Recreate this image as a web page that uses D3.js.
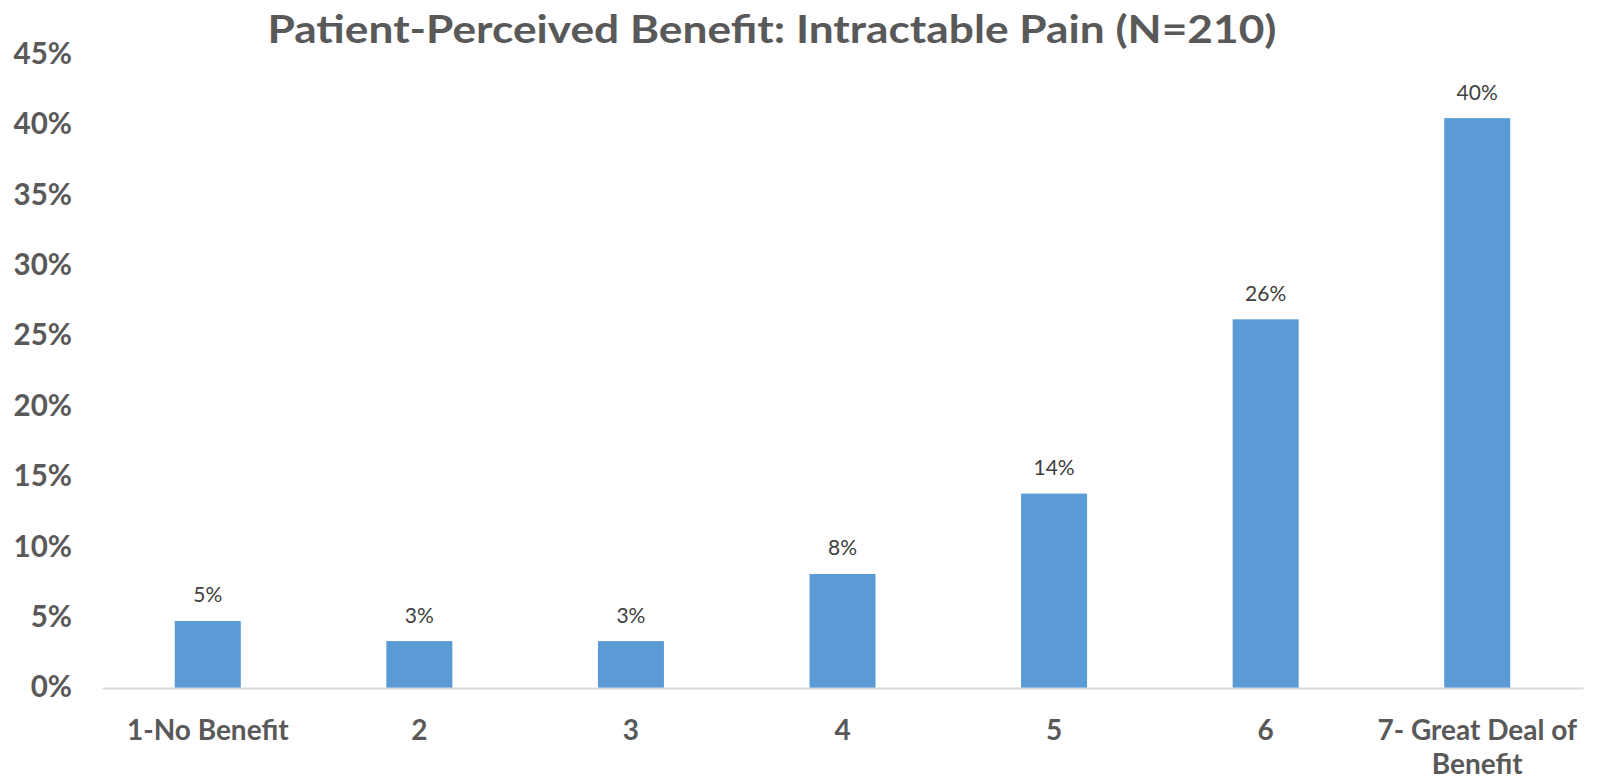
<!DOCTYPE html>
<html>
<head>
<meta charset="utf-8">
<script src="https://cdn.jsdelivr.net/npm/d3@7"></script>
<style>
  html, body { margin: 0; padding: 0; background: #fff; }
  svg { display: block; }
</style>
</head>
<body>
<svg id="chart" width="1601" height="781"></svg>
<script>
const titleText = "Patient-Perceived Benefit: Intractable Pain (N=210)";
const categories = ["1-No Benefit", "2", "3", "4", "5", "6", "7- Great Deal of Benefit"];
const values = [0.0476, 0.0333, 0.0333, 0.0810, 0.1381, 0.2619, 0.4048];
const dataLabels = ["5%", "3%", "3%", "8%", "14%", "26%", "40%"];
const yTicks = [0, 0.05, 0.10, 0.15, 0.20, 0.25, 0.30, 0.35, 0.40, 0.45];

const svg = d3.select("#chart");
const margin = { left: 102, right: 18, top: 54.5, bottom: 93 };
const W = 1601, H = 781;
const plotW = W - margin.left - margin.right;
const plotH = H - margin.top - margin.bottom;

const font = "Lato, 'Open Sans', sans-serif";

const x = d3.scaleBand()
  .domain(categories)
  .range([0, plotW])
  .paddingInner(0.688)
  .paddingOuter(0.344);

const y = d3.scaleLinear()
  .domain([0, 0.45])
  .range([plotH, 0]);

const g = svg.append("g").attr("transform", `translate(${margin.left},${margin.top})`);

// Title
svg.append("text")
  .attr("x", 772)
  .attr("y", 43)
  .attr("text-anchor", "middle")
  .attr("font-family", font)
  .attr("font-weight", 700)
  .attr("font-size", 39)
  .attr("fill", "#595959")
  .attr("textLength", 1009)
  .attr("lengthAdjust", "spacingAndGlyphs")
  .text(titleText);

// Y axis
const yAxis = g.append("g")
  .call(d3.axisLeft(y).tickValues(yTicks).tickFormat(d3.format(".0%")).tickSize(0).tickPadding(30));
yAxis.select(".domain").remove();
yAxis.selectAll("text")
  .attr("font-family", font)
  .attr("font-weight", 700)
  .attr("font-size", 29.5)
  .attr("fill", "#595959")
  .attr("dy", "0.3em");

// Bars
g.selectAll("rect.bar")
  .data(values)
  .join("rect")
  .attr("class", "bar")
  .attr("x", (d, i) => x(categories[i]))
  .attr("width", x.bandwidth())
  .attr("y", d => y(d))
  .attr("height", d => plotH - y(d))
  .attr("fill", "#5B9BD5");

// Data labels
g.selectAll("text.dl")
  .data(values)
  .join("text")
  .attr("class", "dl")
  .attr("x", (d, i) => x(categories[i]) + x.bandwidth() / 2)
  .attr("y", d => y(d) - 18.5)
  .attr("text-anchor", "middle")
  .attr("font-family", font)
  .attr("font-size", 21)
  .attr("fill", "#404040")
  .text((d, i) => dataLabels[i]);

// X axis
const xAxis = g.append("g")
  .attr("transform", `translate(0,${plotH})`)
  .call(d3.axisBottom(x).tickSize(0).tickSizeOuter(0).tickPadding(0));
xAxis.select(".domain").attr("stroke", "#D9D9D9").attr("stroke-width", 2);
xAxis.selectAll(".tick text").remove();

const maxLine = x.step() * 1.05;
xAxis.selectAll(".tick").each(function(d) {
  const t = d3.select(this).append("text")
    .attr("y", 52)
    .attr("text-anchor", "middle")
    .attr("font-family", font)
    .attr("font-weight", 700)
    .attr("font-size", 28)
    .attr("fill", "#595959");
  const words = d.split(" ");
  let line = [];
  let tspan = t.append("tspan").attr("x", 0).attr("dy", 0);
  words.forEach(w => {
    line.push(w);
    tspan.text(line.join(" "));
    if (tspan.node().getComputedTextLength() > maxLine && line.length > 1) {
      line.pop();
      tspan.text(line.join(" "));
      line = [w];
      tspan = t.append("tspan").attr("x", 0).attr("dy", 34).text(w);
    }
  });
});
</script>
</body>
</html>
